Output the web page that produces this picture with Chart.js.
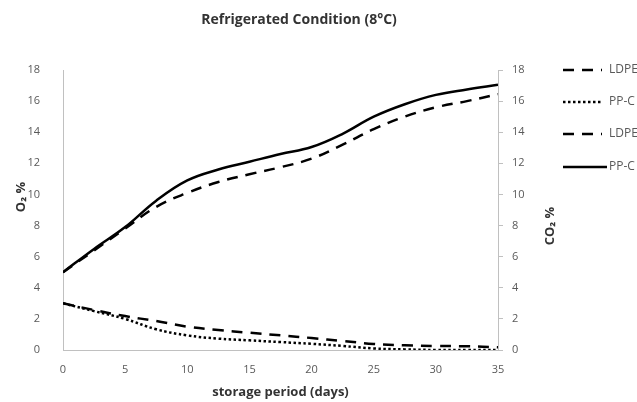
<!DOCTYPE html>
<html>
<head>
<meta charset="utf-8">
<script src="https://cdn.jsdelivr.net/npm/chart.js@4.4.1/dist/chart.umd.min.js"></script>
<style>
html,body{margin:0;padding:0;background:#fff;overflow:hidden;}
#wrap{width:637px;height:402px;position:relative;}
</style>
</head>
<body>
<div id="wrap"><canvas id="c" width="637" height="402"></canvas></div>
<script>
const chartTitle = "Refrigerated Condition (8°C)";
const xTitle = "storage period (days)";
const yLeftTitle = "O₂ %";
const yRightTitle = "CO₂ %";
const days = [0, 2.5, 5, 7.5, 10, 12.5, 15, 17.5, 20, 22.5, 25, 27.5, 30, 32.5, 35];
const ldpeO2  = [3.0, 2.57, 2.18, 1.86, 1.5, 1.28, 1.11, 0.94, 0.77, 0.58, 0.39, 0.3, 0.26, 0.24, 0.17];
const ppcO2   = [3.0, 2.5, 2.0, 1.33, 0.94, 0.73, 0.62, 0.51, 0.4, 0.26, 0.1, 0.04, 0.0, 0.0, 0.0];
const ldpeCO2 = [5.0, 6.4, 7.8, 9.2, 10.1, 10.8, 11.3, 11.75, 12.3, 13.2, 14.2, 15.0, 15.6, 16.0, 16.45];
const ppcCO2  = [5.0, 6.5, 7.9, 9.6, 10.9, 11.6, 12.1, 12.6, 13.05, 13.9, 15.0, 15.8, 16.4, 16.75, 17.05];
const legendLabels = ["LDPE O₂", "PP-C O₂", "LDPE CO₂", "PP-C CO₂"];

const FONT = "'Open Sans', 'Liberation Sans', sans-serif";
const TXT = "#595959";
const AXIS = "#c0c0c0";

function pts(arr){ return arr.map((v,i)=>({x:days[i], y:v})); }

const styles = [
  {dash:[11,8]},
  {dash:[2.5,2.5]},
  {dash:[11,8]},
  {dash:[]}
];

const series = [ldpeO2, ppcO2, ldpeCO2, ppcCO2];
const axesFor = ['y','y','y2','y2'];

const datasets = series.map((s,i)=>({
  label: legendLabels[i],
  data: pts(s),
  yAxisID: axesFor[i],
  borderColor: '#000',
  borderWidth: 2.5,
  borderDash: styles[i].dash,
  borderCapStyle: 'butt',
  pointRadius: 0,
  fill: false,
  tension: 0.4
}));

const overlay = {
  id: 'overlay',
  afterDraw(chart){
    const ctx = chart.ctx;
    ctx.save();
    ctx.fillStyle = '#333';
    ctx.font = "bold 14px " + FONT;
    ctx.textAlign = 'center';
    ctx.textBaseline = 'middle';
    ctx.fillText(chartTitle, 299, 20);
    // axis titles (both read bottom-to-top)
    ctx.font = "bold 13px " + FONT;
    ctx.save(); ctx.translate(21, 197); ctx.rotate(-Math.PI/2); ctx.fillText(yLeftTitle, 0, 0); ctx.restore();
    ctx.save(); ctx.translate(550, 226); ctx.rotate(-Math.PI/2); ctx.fillText(yRightTitle, 0, 0); ctx.restore();
    // legend
    const ys = [70, 102, 134, 167];
    ctx.font = "12px " + FONT;
    ctx.textAlign = 'left';
    for (let i=0;i<4;i++){
      ctx.beginPath();
      ctx.strokeStyle = '#000';
      ctx.lineWidth = 2.5;
      ctx.setLineDash(styles[i].dash);
      ctx.moveTo(563, ys[i]);
      ctx.lineTo(i===3 ? 607 : 602, ys[i]);
      ctx.stroke();
      ctx.setLineDash([]);
      ctx.fillStyle = TXT;
      ctx.fillText(legendLabels[i], 609, ys[i]);
    }
    ctx.restore();
  }
};

new Chart(document.getElementById('c'), {
  type: 'line',
  data: { datasets },
  plugins: [overlay],
  options: {
    responsive: false,
    animation: false,
    events: [],
    layout: { padding: { top: 70, right: 79, left: 0, bottom: 0 } },
    plugins: { legend: { display: false }, tooltip: { enabled: false }, title: { display: false } },
    scales: {
      x: {
        type: 'linear', min: 0, max: 35,
        ticks: { stepSize: 5, color: TXT, font: { family: FONT, size: 11 }, padding: 5, maxRotation: 0 },
        grid: { display: false },
        border: { display: true, color: AXIS, width: 1 },
        title: { display: true, text: xTitle, color: '#333', font: { family: FONT, size: 13, weight: 'bold' }, padding: { top: 4, bottom: 2 } },
        afterFit(s){ s.height = 52; }
      },
      y: {
        position: 'left', min: 0, max: 18,
        ticks: { stepSize: 2, color: TXT, font: { family: FONT, size: 11 }, padding: 15 },
        grid: { display: false },
        border: { display: true, color: AXIS, width: 1 },
        title: { display: false },
        afterFit(s){ s.width = 63; }
      },
      y2: {
        position: 'right', min: 0, max: 18,
        ticks: { stepSize: 2, color: TXT, font: { family: FONT, size: 11 }, padding: 9 },
        grid: { display: true, drawOnChartArea: false, drawTicks: true, tickLength: 5, color: AXIS },
        border: { display: true, color: AXIS, width: 1 },
        title: { display: false },
        afterFit(s){ s.width = 60; }
      }
    }
  }
});
</script>
</body>
</html>
